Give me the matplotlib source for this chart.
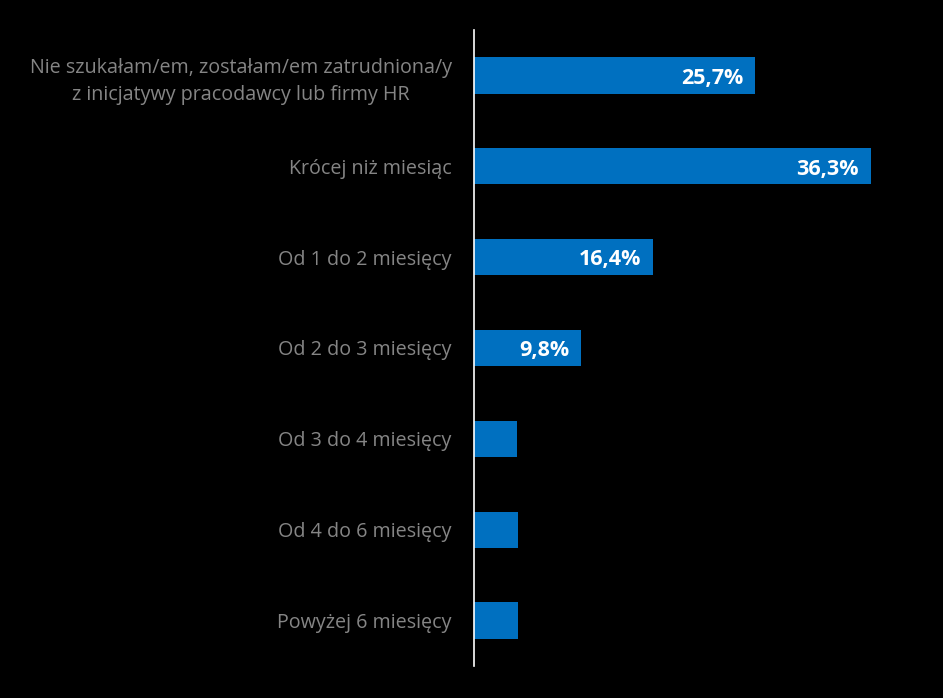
import matplotlib
matplotlib.use("Agg")
import matplotlib.pyplot as plt

categories = [
    "Nie szukałam/em, zostałam/em zatrudniona/y\nz inicjatywy pracodawcy lub firmy HR",
    "Krócej niż miesiąc",
    "Od 1 do 2 miesięcy",
    "Od 2 do 3 miesięcy",
    "Od 3 do 4 miesięcy",
    "Od 4 do 6 miesięcy",
    "Powyżej 6 miesięcy",
]
values = [25.7, 36.3, 16.4, 9.8, 3.9, 4.0, 4.0]
value_labels = ["25,7%", "36,3%", "16,4%", "9,8%", "", "", ""]

BAR_COLOR = "#0070C0"
LABEL_COLOR = "#858585"

plt.rcParams["font.family"] = ["Open Sans", "DejaVu Sans"]

fig = plt.figure(figsize=(9.43, 6.98), dpi=100, facecolor="black")
ax = fig.add_axes([474 / 943, 32 / 698, 437.6 / 943, 636 / 698], facecolor="black")

y = list(range(len(categories)))
ax.barh(y, values, height=0.4, color=BAR_COLOR)

for yi, v, lab in zip(y, values, value_labels):
    if lab:
        ax.text(v - 1.1, yi + 0.03, lab, ha="right", va="center", color="white",
                fontsize=15.5, fontweight="bold")

ax.set_xlim(0, 40)
ax.set_ylim(len(categories) - 0.5, -0.5)
ax.set_yticks(y)
ax.set_yticklabels(categories, color=LABEL_COLOR, fontsize=14.2, ha="right",
                   multialignment="center", linespacing=1.5)
ax.tick_params(axis="y", length=0, pad=16)
ax.set_xticks([])

for side in ["top", "right", "bottom"]:
    ax.spines[side].set_visible(False)
ax.spines["left"].set_color("white")
ax.spines["left"].set_linewidth(1.2)

fig.savefig("out.png", dpi=100, facecolor="black")
